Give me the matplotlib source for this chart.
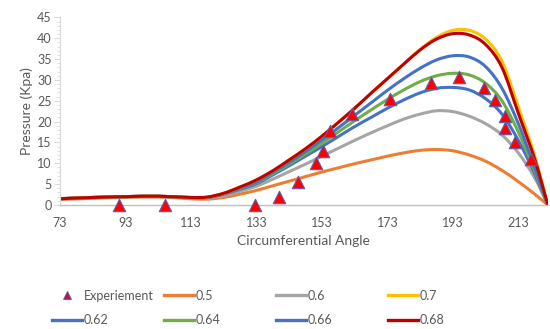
import numpy as np
import matplotlib.pyplot as plt
from matplotlib.lines import Line2D
from matplotlib.path import Path
from matplotlib.patches import PathPatch
from matplotlib.ticker import MultipleLocator

plt.rcParams['font.family'] = ['Lato', 'DejaVu Sans']

# ------------------------------------------------------------------
# Data
# ------------------------------------------------------------------
angle = [73, 83, 93, 103, 113, 118, 123, 128, 133, 138, 143, 148, 153, 158,
         163, 168, 173, 178, 183, 188, 193, 198, 203, 208, 213, 218, 222]

p_050 = [1.3, 1.6, 1.8, 1.9, 1.5, 1.4, 1.8, 2.6, 3.5, 4.6, 5.7, 6.8, 7.9, 8.9,
         9.9, 10.8, 11.7, 12.5, 13.1, 13.3, 13.0, 12.0, 10.5, 8.3, 5.6, 2.6, 0.0]
p_060 = [1.4, 1.7, 1.9, 2.0, 1.6, 1.6, 2.2, 3.3, 4.5, 6.2, 8.0, 9.8, 11.7, 13.6,
         15.5, 17.3, 19.0, 20.6, 21.8, 22.6, 22.4, 21.3, 19.5, 16.8, 12.5, 6.5, 0.0]
p_062 = [1.5, 1.8, 2.0, 2.1, 1.7, 1.8, 2.6, 3.8, 5.1, 7.2, 9.4, 11.7, 14.0, 16.4,
         18.8, 21.0, 23.2, 25.2, 26.9, 28.0, 28.2, 27.6, 25.5, 21.8, 15.5, 7.5, 0.0]
p_064 = [1.5, 1.8, 2.0, 2.1, 1.7, 1.8, 2.7, 4.0, 5.3, 7.5, 9.8, 12.2, 14.8, 17.5,
         20.2, 22.8, 25.3, 27.6, 29.6, 31.0, 31.6, 31.2, 29.2, 25.0, 17.5, 8.2, 0.0]
p_066 = [1.5, 1.8, 2.0, 2.1, 1.8, 1.8, 2.7, 4.1, 5.5, 7.8, 10.2, 12.8, 15.6, 18.5,
         21.5, 24.5, 27.5, 30.3, 32.8, 34.8, 35.8, 35.5, 33.2, 28.0, 19.5, 9.0, 0.0]
p_068 = [1.5, 1.8, 2.0, 2.1, 1.8, 1.9, 2.8, 4.3, 6.0, 8.2, 10.8, 13.5, 16.5, 19.8,
         23.2, 26.8, 30.3, 33.8, 37.2, 39.8, 41.1, 40.8, 38.5, 33.0, 22.0, 11.0, 0.0]
p_070 = [1.5, 1.8, 2.0, 2.1, 1.8, 1.9, 2.8, 4.3, 6.0, 8.2, 10.8, 13.5, 16.5, 19.8,
         23.2, 26.8, 30.3, 33.8, 37.3, 40.2, 41.9, 41.9, 39.8, 34.5, 23.5, 11.8, 0.0]

exp_angle = [91, 105, 132.5, 140, 145.7, 151.2, 153.3, 155.6, 162.2, 173.7,
             186.3, 194.9, 202.4, 205.8, 209, 209, 212, 217]
exp_p = [0, 0, 0, 2.0, 5.6, 10.0, 13.0, 17.8, 21.8, 25.5,
         29.3, 30.8, 28.0, 25.2, 21.3, 18.4, 15.0, 11.0]

series = [
    ('0.5',  p_050, '#ED7D31'),
    ('0.6',  p_060, '#A5A5A5'),
    ('0.62', p_062, '#4472C4'),
    ('0.64', p_064, '#70AD47'),
    ('0.66', p_066, '#4472C4'),
    ('0.7',  p_070, '#FFC000'),
    ('0.68', p_068, '#C00000'),
]


def smooth_path(x, y):
    """Excel-style smoothed line: Catmull-Rom segments drawn as cubic Beziers."""
    pts = np.column_stack([x, y]).astype(float)
    ext = np.vstack([pts[0], pts, pts[-1]])
    verts = [pts[0]]
    codes = [Path.MOVETO]
    for i in range(1, len(ext) - 2):
        p0, p1, p2, p3 = ext[i - 1], ext[i], ext[i + 1], ext[i + 2]
        verts += [p1 + (p2 - p0) / 6, p2 - (p3 - p1) / 6, p2]
        codes += [Path.CURVE4] * 3
    return Path(verts, codes)


# ------------------------------------------------------------------
# Plot
# ------------------------------------------------------------------
fig = plt.figure(figsize=(5.5, 3.29), dpi=100)
ax = fig.add_axes([0.109, 0.377, 0.887, 0.57])

handles = {}
for lbl, vals, col in series:
    ax.add_patch(PathPatch(smooth_path(angle, vals), facecolor='none',
                           edgecolor=col, linewidth=2.2, capstyle='round'))
    handles[lbl] = Line2D([], [], color=col, linewidth=2.4)

ax.scatter(exp_angle, exp_p, marker='^', s=80, color='#FF0000',
           edgecolors='#5B5FB0', linewidths=0.8, zorder=5, clip_on=False)
handles['Experiement'] = Line2D([], [], linestyle='none', marker='^', markersize=6,
                                markerfacecolor='#C0143C', markeredgecolor='#5B5FB0',
                                markeredgewidth=0.6)

ax.set_xlim(73, 222)
ax.set_ylim(0, 45)
ax.set_xticks(range(73, 214, 20))
ax.yaxis.set_major_locator(MultipleLocator(5))
ax.yaxis.set_minor_locator(MultipleLocator(1))

for s in ['top', 'right']:
    ax.spines[s].set_visible(False)
ax.spines['left'].set_color('#D9D9D9')
ax.spines['bottom'].set_color('#BFBFBF')
ax.spines['bottom'].set_linewidth(1.0)
ax.tick_params(axis='y', which='major', length=4, color='#D9D9D9', labelsize=9,
               labelcolor='#595959', pad=2)
ax.tick_params(axis='y', which='minor', length=2, color='#D9D9D9')
ax.tick_params(axis='x', length=0, labelsize=9, labelcolor='#595959', pad=9)

ax.set_xlabel('Circumferential Angle', fontsize=10, color='#595959', labelpad=4)
ax.set_ylabel('Pressure (Kpa)', fontsize=10, color='#595959', labelpad=3)

# Legend: 4 equal-width columns, 2 rows
columns = [('Experiement', '0.62'), ('0.5', '0.64'), ('0.6', '0.66'), ('0.7', '0.68')]
for i, (top, bottom) in enumerate(columns):
    fig.legend(handles=[handles[top], handles[bottom]], labels=[top, bottom],
               loc='upper left', bbox_to_anchor=(0.095 + i * 0.2035, 0.12),
               bbox_transform=fig.transFigure, frameon=False, fontsize=9,
               handlelength=2.4, handletextpad=0.15, labelspacing=1.0,
               borderaxespad=0, borderpad=0, labelcolor='#595959')

fig.savefig('out.png', dpi=100)
